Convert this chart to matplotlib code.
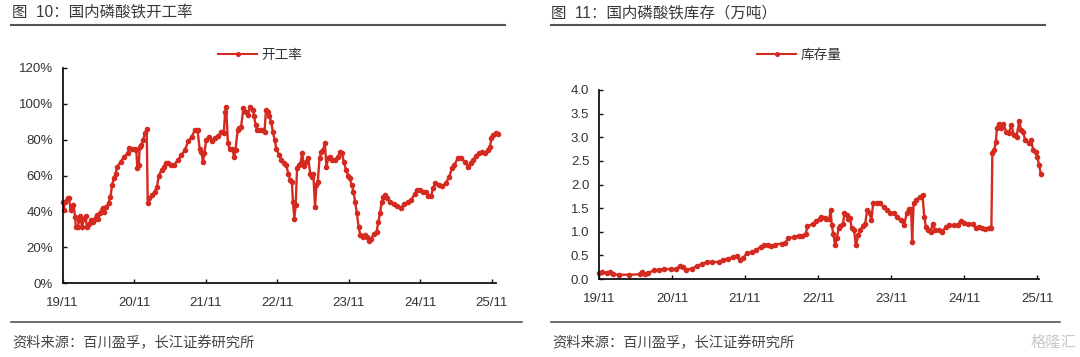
import matplotlib
matplotlib.use("Agg")
import matplotlib.pyplot as plt
from matplotlib.lines import Line2D
from matplotlib.ticker import FuncFormatter

plt.rcParams['font.family'] = ['Liberation Sans', 'Noto Sans CJK SC', 'DejaVu Sans']

# ---------------- data (months since 2019-11) ----------------
rate_month = [0.0, 0.2, 0.35, 0.81, 1.04, 1.33, 1.62, 1.80, 2.09, 2.20, 2.49, 2.78, 2.96, 3.25, 3.54,
              3.83, 4.06, 4.41, 4.70, 5.10, 5.39, 5.68, 5.97, 6.26, 6.55, 6.73, 6.96, 7.31, 7.71, 8.00,
              8.29, 8.58, 8.87, 9.16, 9.74, 10.32, 10.90, 11.19, 11.66, 12.06, 12.35, 12.53, 12.76, 12.93,
              13.22, 13.51, 13.80, 14.09, 14.27, 14.56, 14.96, 15.43, 15.83, 16.12, 16.59, 16.99, 17.28,
              17.75, 18.15, 18.73, 19.31, 19.89, 20.47, 21.05, 21.63, 22.21, 22.62, 22.97, 23.26, 23.55,
              23.78, 24.07, 24.53, 25.11, 25.52, 26.10, 26.56, 27.03, 27.26, 27.43, 27.72, 28.01, 28.42,
              28.77, 29.00, 29.35, 29.64, 29.93, 30.33, 30.74, 31.09, 31.44, 31.90, 32.13, 32.36, 32.65,
              33.06, 33.52, 33.87, 34.10, 34.45, 34.68, 34.97, 35.26, 35.55, 35.84, 36.31, 36.71, 37.12,
              37.47, 37.87, 38.16, 38.45, 38.63, 38.86, 39.09, 39.32, 39.61, 39.90, 40.19, 40.48, 40.83,
              41.18, 41.53, 41.76, 42.05, 42.34, 42.57, 42.80, 43.09, 43.38, 43.73, 43.96, 44.25, 44.54,
              44.83, 45.24, 45.70, 46.17, 46.57, 46.86, 47.15, 47.56, 47.91, 48.14, 48.49, 48.78, 49.07,
              49.36, 49.65, 49.94, 50.34, 50.69, 51.04, 51.39, 51.79, 52.20, 52.66, 52.95, 53.24, 53.53,
              53.82, 54.11, 54.40, 54.98, 55.56, 56.14, 56.72, 57.30, 57.88, 58.46, 59.04, 59.45, 59.91,
              60.49, 60.96, 61.36, 61.83, 62.12, 62.52, 63.10, 63.68, 64.26, 64.84, 65.31, 65.71, 66.29,
              66.87, 67.45, 68.03, 68.44, 68.90, 69.37, 69.77, 70.35, 70.93, 71.34, 71.69, 71.92, 72.27,
              72.67, 73.0]
rate_value = [45, 41, 45.3, 47.2, 47.6, 40.7, 42.5, 43.5, 37, 31.3, 31, 35, 37.5, 31, 36,
              37.5, 31, 33, 35, 34, 36, 38, 36, 39, 40.7, 42, 39.7, 42.5, 44.8, 48,
              54.7, 58.4, 61, 65, 67.7, 70.5, 72.4, 75.6, 74.8, 74.6, 74, 64, 66, 76,
              77, 80, 83.6, 85.8, 44.4, 47.2, 49, 51, 53.7, 60, 63, 65, 67,
              67, 66, 66, 68.7, 71.5, 74, 79, 81.7, 85.4, 85.4, 75, 73, 67.7,
              72.4, 80, 81.3, 79.5, 81, 82, 84.5, 84, 95.7, 98, 78, 75, 75,
              70.5, 74, 85.4, 86.4, 87.3, 97.6, 95.7, 93.8, 98, 96.6, 93, 88, 85.4,
              85.4, 85.4, 84.5, 96.6, 95.7, 93, 90, 84.5, 80, 75, 71.5, 68.7, 67,
              66, 61, 57.5, 56.5, 45.3, 36, 43.5, 64, 66, 67, 72.4, 65.5, 67.7,
              70, 61, 59.3, 61, 42.5, 54.7, 56.5, 69.6, 73.3, 74, 78.4, 65, 69.6,
              70.5, 68.7, 68.7, 70.5, 73.3, 72.4, 67.7, 63, 60, 58.4, 54.7, 51, 45.3,
              38.8, 31.3, 26.7, 25.7, 26.7, 25.4, 23.5, 24.8, 27.6, 28.5, 34, 38.8, 45.3,
              48, 49, 47.2, 45.3, 44, 43, 42, 44, 45.3, 46.3, 49.6, 52, 51.8,
              51, 51, 48.5, 48.5, 52.8, 55.6, 54.7, 54.1, 55.6, 59.3, 64, 65.9, 69.6,
              69.6, 67.7, 65, 67, 68.7, 70.9, 72.4, 73.3, 72.4, 74, 76, 80.8, 82.6,
              83.6, 83.4]

stock_month = [0.0, 0.45, 1.31, 1.88, 2.27, 3.29, 5.00, 6.70, 6.99, 7.55, 8.12, 8.97, 9.83, 10.68,
               11.81, 12.67, 13.24, 13.80, 14.37, 15.22, 16.07, 16.93, 17.78, 18.63, 19.77, 20.33,
               21.19, 22.04, 22.61, 23.17, 23.74, 24.31, 25.16, 25.73, 26.58, 27.15, 27.72, 28.29,
               28.85, 29.99, 30.56, 31.13, 31.98, 32.83, 33.40, 33.97, 34.25, 35.10, 35.67, 36.24,
               36.52, 37.09, 37.37, 37.83, 38.06, 38.23, 38.51, 38.79, 39.08, 39.36, 39.65, 40.10,
               40.33, 40.67, 40.95, 41.24, 41.52, 41.92, 42.20, 42.60, 42.94, 43.34, 43.74, 44.08,
               44.47, 44.76, 45.04, 45.61, 46.18, 46.75, 47.31, 47.88, 48.45, 49.02, 49.59, 50.15,
               50.55, 50.89, 51.29, 51.46, 51.69, 52.14, 52.71, 53.16, 53.45, 53.73, 54.13, 54.53,
               54.81, 55.27, 55.83, 56.40, 56.97, 57.54, 58.39, 58.96, 59.41, 59.98, 60.66, 61.51,
               61.91, 62.37, 62.93, 63.50, 64.07, 64.47, 64.64, 64.92, 65.21, 65.38, 65.66, 66.06,
               66.46, 66.91, 67.36, 67.76, 68.16, 68.61, 69.07, 69.35, 69.64, 70.03, 70.60, 71.00,
               71.34, 71.74, 72.02, 72.31, 72.59]
stock_value = [0.13, 0.15, 0.13, 0.15, 0.10, 0.09, 0.09, 0.10, 0.15, 0.10, 0.13, 0.18, 0.20, 0.21,
               0.21, 0.21, 0.27, 0.25, 0.20, 0.22, 0.27, 0.32, 0.36, 0.36, 0.36, 0.41,
               0.43, 0.47, 0.48, 0.41, 0.45, 0.55, 0.57, 0.61, 0.68, 0.73, 0.71, 0.69,
               0.73, 0.75, 0.76, 0.86, 0.89, 0.92, 0.92, 0.96, 1.12, 1.16, 1.22, 1.28,
               1.31, 1.29, 1.26, 1.28, 1.46, 1.14, 0.96, 0.71, 0.86, 1.07, 1.12, 1.17,
               1.39, 1.35, 1.26, 1.29, 1.07, 1.03, 0.71, 0.93, 1.03, 1.12, 1.17, 1.47,
               1.39, 1.24, 1.60, 1.61, 1.60, 1.53, 1.46, 1.39, 1.39, 1.31, 1.24, 1.14,
               1.39, 1.49, 1.49, 0.78, 1.60, 1.68, 1.74, 1.77, 1.31, 1.10, 1.03, 1.00,
               1.17, 1.03, 1.03, 1.00, 1.10, 1.14, 1.14, 1.14, 1.23, 1.19, 1.17, 1.17,
               1.07, 1.10, 1.07, 1.05, 1.07, 1.07, 2.66, 2.73, 2.90, 3.19, 3.28, 3.19,
               3.28, 3.12, 3.10, 3.26, 3.05, 3.01, 3.35, 3.15, 3.12, 2.95, 2.87, 2.94,
               2.73, 2.69, 2.59, 2.41, 2.23]

tick_labels = ['19/11', '20/11', '21/11', '22/11', '23/11', '24/11', '25/11']
tick_months = [0, 12, 24, 36, 48, 60, 72]

rate_ticks = [0, 20, 40, 60, 80, 100, 120]
stock_ticks = [0.0, 0.5, 1.0, 1.5, 2.0, 2.5, 3.0, 3.5, 4.0]

titles = ['图  10：国内磷酸铁开工率', '图  11：国内磷酸铁库存（万吨）']
legend_names = ['开工率', '库存量']
source = '资料来源：百川盈孚，长江证券研究所'

RED = '#D42A1F'
TXT = '#333333'
LW = 1.7
MS = 3.0

W, H = 1080, 357
fig = plt.figure(figsize=(W / 100, H / 100), dpi=100)


def fx(px):
    return px / W


def fy(py):
    return 1 - py / H


ax1 = fig.add_axes([fx(62.7), fy(283), fx(496 - 62.7), fy(68) - fy(283)])
ax2 = fig.add_axes([fx(599), fy(279), fx(1039 - 599), fy(90) - fy(279)])


def style(ax):
    for s in ['top', 'right']:
        ax.spines[s].set_visible(False)
    for s in ['left', 'bottom']:
        ax.spines[s].set_color('#111111')
        ax.spines[s].set_linewidth(1.3)
    ax.tick_params(axis='both', direction='in', length=3, width=1.0, colors='#111111',
                   labelsize=9.5, labelcolor=TXT)
    ax.tick_params(axis='y', pad=7)
    ax.tick_params(axis='x', pad=10)
    ax.set_xticks(tick_months)
    ax.set_xticklabels(tick_labels)


ax1.plot(rate_month, rate_value, color=RED, lw=LW, marker='o', ms=MS, clip_on=False)
ax1.set_xlim(0, 72.7)
ax1.set_ylim(0, 120)
ax1.set_yticks(rate_ticks)
ax1.yaxis.set_major_formatter(FuncFormatter(lambda v, p: f'{v:.0f}%'))
style(ax1)

ax2.plot(stock_month, stock_value, color=RED, lw=LW, marker='o', ms=MS, clip_on=False)
ax2.set_xlim(0, 72.3)
ax2.set_ylim(0, 4.0)
ax2.set_yticks(stock_ticks)
ax2.yaxis.set_major_formatter(FuncFormatter(lambda v, p: f'{v:.1f}'))
style(ax2)

# legends
for ax, name, cx in [(ax1, legend_names[0], 260), (ax2, legend_names[1], 799)]:
    ax.legend([Line2D([0], [0], color=RED, lw=1.5, marker='o', ms=2.6)], [name],
              loc='center', bbox_to_anchor=(fx(cx), fy(55)), bbox_transform=fig.transFigure,
              frameon=False, fontsize=9.8, handlelength=2.9, handletextpad=0.3,
              labelcolor=TXT, borderpad=0)

# titles
fig.text(fx(12), fy(13), titles[0], fontsize=11.2, color='#3a3a3a', va='center', ha='left')
fig.text(fx(551), fy(13), titles[1], fontsize=11.2, color='#3a3a3a', va='center', ha='left')

# rules
fig.add_artist(Line2D([fx(11), fx(505)], [fy(24.5), fy(24.5)], color='#555555', lw=1.5))
fig.add_artist(Line2D([fx(551), fx(1045)], [fy(24.5), fy(24.5)], color='#555555', lw=1.5))
fig.add_artist(Line2D([fx(11), fx(522)], [fy(322), fy(322)], color='#555555', lw=1.2))
fig.add_artist(Line2D([fx(551), fx(1060)], [fy(322), fy(322)], color='#555555', lw=1.2))

# sources
fig.text(fx(12), fy(343), source, fontsize=10.3, color='#444444', va='center', ha='left')
fig.text(fx(552), fy(343), source, fontsize=10.3, color='#444444', va='center', ha='left')

# watermark
fig.text(fx(1076), fy(343), '格隆汇', fontsize=11, color='#c8c8c8', va='center', ha='right')

fig.savefig('out.png', dpi=100)
